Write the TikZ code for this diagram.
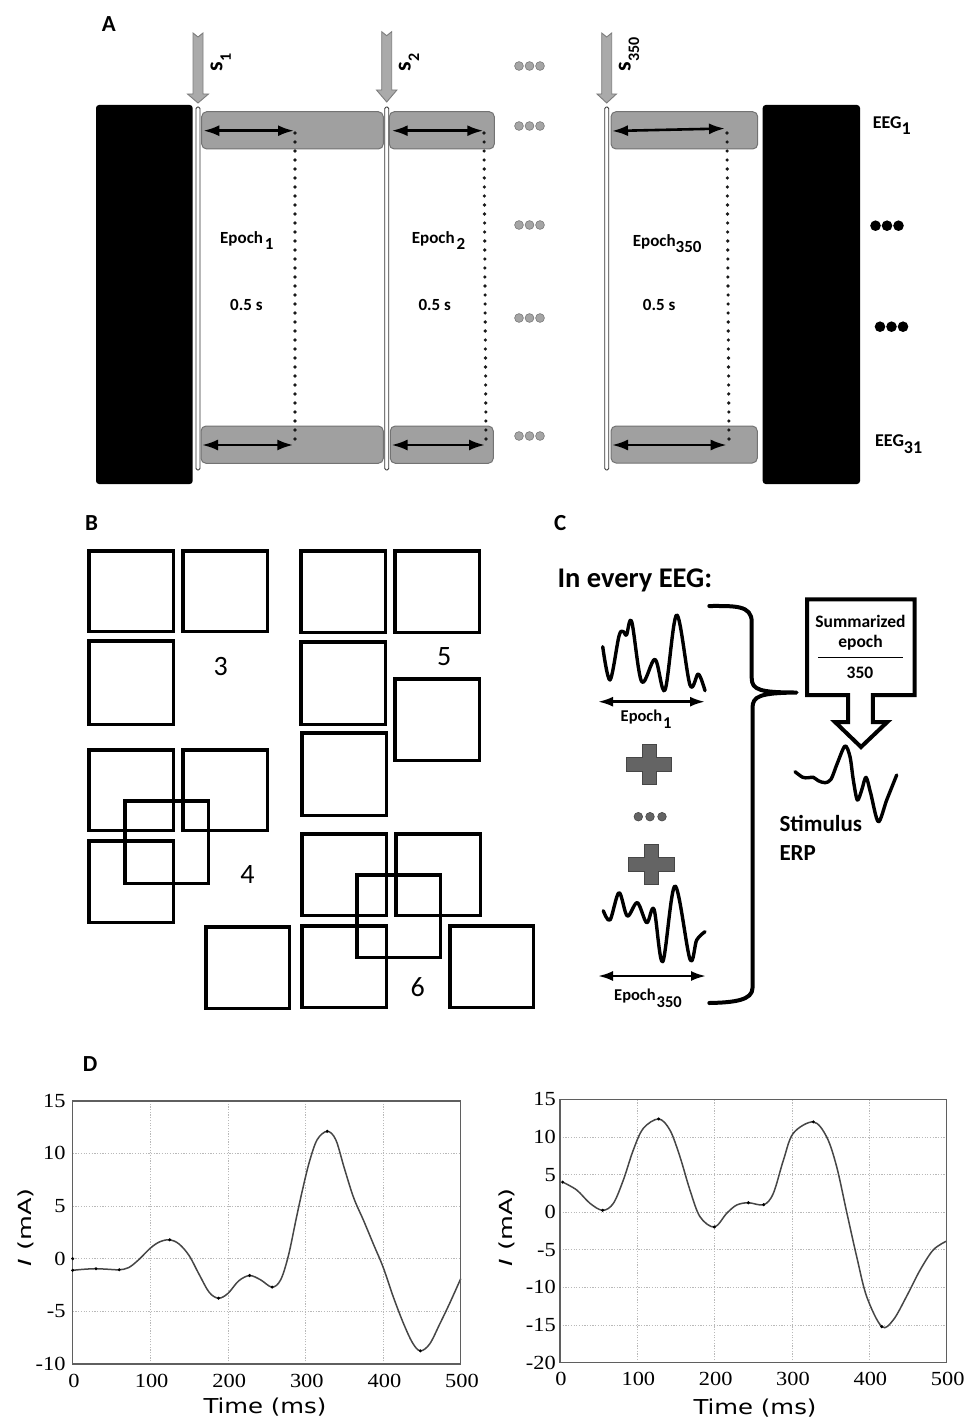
\documentclass[tikz,border=0pt]{standalone}
\usepackage{fontspec}
\setmainfont{Carlito}
\newfontfamily\tnrfont{Liberation Serif}
\newfontfamily\dvsfont{DejaVu Sans}
\usetikzlibrary{arrows.meta}
\newcommand\fsz[1]{\fontsize{#1}{#1}\selectfont}
\newcommand\lowsub[2]{\raisebox{-#1}{#2}}
\definecolor{boxgray}{RGB}{160,160,160}
\definecolor{boxedge}{RGB}{115,115,115}
\definecolor{arrgray}{RGB}{170,170,170}
\definecolor{arredge}{RGB}{125,125,125}
\definecolor{dotgray}{RGB}{165,165,165}
\definecolor{dotedge}{RGB}{120,120,120}
\definecolor{plusgray}{RGB}{100,100,100}
\definecolor{plusedge}{RGB}{70,70,70}
\definecolor{gridgray}{RGB}{185,185,185}
\definecolor{curvegray}{RGB}{70,70,70}
\definecolor{axisgray}{RGB}{95,95,95}
\definecolor{dotcol}{RGB}{25,25,25}
\begin{document}
\begin{tikzpicture}[x=1pt,y=-1pt,
  panlab/.style={inner sep=0pt, font=\fsz{23}\bfseries},
  lab/.style={inner sep=0pt, font=\fsz{17}\bfseries},
  eeglab/.style={inner sep=0pt, font=\fsz{18}\bfseries},
  slab/.style={inner sep=0pt, font=\fsz{24}\bfseries, rotate=90, anchor=base west},
  numlab/.style={inner sep=0pt, font=\fsz{28}, anchor=base},
  clab/.style={inner sep=0pt, font=\fsz{16.5}\bfseries, anchor=base west},
  sumlab/.style={inner sep=0pt, font=\fsz{17.5}\bfseries, anchor=base},
  erplab/.style={inner sep=0pt, font=\fsz{23}\bfseries, anchor=base west},
  gbox/.style={draw=boxedge, fill=boxgray, rounded corners=5pt, line width=1pt},
  darr/.style={{Latex[length=16pt,width=11pt]}-{Latex[length=16pt,width=11pt]}, line width=2.6pt},
  carr/.style={{Latex[length=15pt,width=10pt]}-{Latex[length=15pt,width=10pt]}, line width=2.5pt},
  dotl/.style={draw=dotcol, line width=3.6pt, line cap=round, dash pattern=on 0pt off 9pt},
  stimline/.style={draw=black!80, fill=white, line width=0.9pt, rounded corners=1.5pt},
  stimarrow/.style={fill=arrgray, draw=arredge, line width=0.9pt},
  gdot/.style={fill=dotgray, draw=dotedge, line width=0.6pt},
  sq/.style={draw=black, line width=3.6pt},
  wave/.style={draw=black, line width=3.4pt, line cap=round, line join=round},
  plusshape/.style={fill=plusgray, draw=plusedge, line width=0.8pt},
  gridl/.style={draw=gridgray, line width=0.7pt, dash pattern=on 1.2pt off 1.5pt},
  axisl/.style={draw=axisgray, line width=1.5pt},
  curvel/.style={draw=curvegray, line width=1.5pt},
  tick/.style={inner sep=0pt, font=\tnrfont\fsz{20}, xscale=1.12},
  axlab/.style={inner sep=0pt, font=\dvsfont\fsz{20.5}, xscale=1.19, anchor=base},
  ylab/.style={inner sep=0pt, font=\dvsfont\fsz{18}, rotate=90, xscale=1.42, anchor=base west}
]
\useasboundingbox (0,0) rectangle (966,1423);
\fill[white] (0,0) rectangle (966,1423);

%%%%%%%%%%%%%%%% Panel A
\node[panlab, anchor=base west] (labA) at (101.7,31.7) {A};
\fill[rounded corners=3pt] (96,105) rectangle (192.7,484);
\fill[rounded corners=3pt] (762.7,105) rectangle (860,484);
% stimulus arrows
\foreach \c/\t/\h/\tip/\hw in {198/33/94/103/10.5, 386.7/31.7/90/102/10.2, 606.7/33/94/103/9.7}
  \filldraw[stimarrow] (\c-5,\t) -- (\c,\t+4) -- (\c+5,\t) -- (\c+5,\h) -- (\c+\hw,\h) -- (\c,\tip) -- (\c-\hw,\h) -- (\c-5,\h) -- cycle;
\node[slab] (s1) at (222.3,71.7) {s\lowsub{8.5pt}{\fsz{16}1}};
\node[slab] (s2) at (410.7,71.7) {s\lowsub{8.5pt}{\fsz{16}2}};
\node[slab] (s350) at (630.7,71.7) {s\lowsub{8.5pt}{\fsz{16}350}};
% stimulus lines
\draw[stimline] (196,107) rectangle (200,470);
\draw[stimline] (384.7,107) rectangle (388.7,470);
\draw[stimline] (604.7,107) rectangle (608.7,470);
% gray boxes
\draw[gbox] (201.7,111.7) rectangle (383.3,149);
\draw[gbox] (389.3,111.7) rectangle (494.3,149);
\draw[gbox] (611,111.7) rectangle (757.7,149);
\draw[gbox] (201,426) rectangle (383.3,463.3);
\draw[gbox] (390.3,426) rectangle (493.3,463.3);
\draw[gbox] (611,426) rectangle (757.3,463);
% dotted lines
\draw[dotl] (295,133) -- (295,442);
\draw[dotl] (484,133) -- (486,442);
\draw[dotl] (727,133) -- (729,442);
% double arrows
\draw[darr] (203.3,130.7) -- (294,130.7);
\draw[darr] (391.7,130.7) -- (483.3,130.7);
\draw[darr] (612,131) -- (725,128.5);
\draw[darr] (202,445) -- (293.3,445);
\draw[darr] (391.5,445) -- (485,445);
\draw[darr] (612,445) -- (726.7,445);
% gray dots
\foreach \y in {66,126,225,318,436}
  \foreach \x in {519,529.5,540}
    \filldraw[gdot] (\x,\y) circle[radius=4.4pt];
% labels
\node[lab, anchor=base west] (ep1) at (220,243.3) {Epoch\hspace{2pt}\lowsub{6pt}{1}};
\node[lab, anchor=base west] (ep2) at (411.7,243.3) {Epoch\hspace{2pt}\lowsub{6pt}{2}};
\node[lab, anchor=base west] (ep350) at (632.7,246.7) {Epoch\lowsub{6pt}{350}};
\node[lab, anchor=base west] (t1) at (230,310) {0.5 s};
\node[lab, anchor=base west] (t2) at (418.3,310) {0.5 s};
\node[lab, anchor=base west] (t350) at (642.7,310) {0.5 s};
\node[eeglab, anchor=base west] (eeg1) at (872.7,128.3) {EEG\lowsub{6.5pt}{1}};
\node[eeglab, anchor=base west] (eeg31) at (875,446.7) {EEG\lowsub{7pt}{31}};
\foreach \x in {875.5,887,898.5} \fill (\x,225.7) circle[radius=5.3pt];
\foreach \x in {880,891.5,903} \fill (\x,326.7) circle[radius=5.3pt];

%%%%%%%%%%%%%%%% Panel B
\node[panlab, anchor=base west] (labB) at (85,530) {B};
\foreach \a/\b/\c/\d in {
  87/549/175/633, 181/549/269/633, 87/639/175/726,
  87/748/175/832, 181/748/269/832, 123/799/210/885, 87/839/175/924,
  204/925/291/1010,
  299/549/387/634, 393/549/481/634, 299/640/387/726, 393/677/481/762, 300/731/388/817,
  300/832/388/917, 394/832/482/917, 355/873/442/959, 300/924/388/1009, 448/924/535/1009}
  \draw[sq] (\a+1.7,\b+1.7) rectangle (\c-1.7,\d-1.7);
\node[numlab] (n3) at (220.8,675) {3};
\node[numlab] (n4) at (247.5,883.3) {4};
\node[numlab] (n5) at (444.2,665.7) {5};
\node[numlab] (n6) at (417.7,996.7) {6};

%%%%%%%%%%%%%%%% Panel C
\node[panlab, anchor=base west] (labC) at (554,530) {C};
\node[inner sep=0pt, font=\fsz{28.5}\bfseries, anchor=base west] (every) at (557.3,587.3) {In every EEG:};
\draw[wave] plot[smooth, tension=0.55] coordinates {(602.7,646.7) (610,680) (619,636) (623.3,631.7) (626.5,635) (631.7,621.7) (641.7,681.7) (655,659.3) (665,690) (676.7,615) (690,685) (698.3,674) (705,690.7)};
\draw[carr] (598,701.7) -- (705,701.7);
\node[clab] (cep1) at (620.5,721.7) {Epoch\hspace{1pt}\lowsub{6.5pt}{1}};
\filldraw[plusshape] (642,744) -- (656,744) -- (656,757.3) -- (671.7,757.3) -- (671.7,771.7) -- (656,771.7) -- (656,784) -- (642,784) -- (642,771.7) -- (626,771.7) -- (626,757.3) -- (642,757.3) -- cycle;
\foreach \x in {638.3,650,662} \filldraw[fill=plusgray, draw=plusedge, line width=0.6pt] (\x,816.7) circle[radius=4.3pt];
\filldraw[plusshape] (644.5,844) -- (658.5,844) -- (658.5,857.3) -- (674.7,857.3) -- (674.7,871.7) -- (658.5,871.7) -- (658.5,884) -- (644.5,884) -- (644.5,871.7) -- (628.3,871.7) -- (628.3,857.3) -- (644.5,857.3) -- cycle;
\draw[wave] plot[smooth, tension=0.55] coordinates {(603.3,910.7) (610,920) (619,892.7) (627.3,916) (637.3,902.7) (646.7,922.7) (654,909.3) (662.7,961.7) (675,886) (690,959.3) (696.7,940) (705,931.7)};
\draw[carr] (598,976) -- (706,976);
\node[clab] (cep350) at (614,1000) {Epoch\hspace{1pt}\lowsub{7pt}{350}};
% brace
\draw[line width=4pt, line cap=round, line join=round] (709.3,606) .. controls (735,606) and (751.7,605) .. (751.7,622) -- (751.7,678) .. controls (751.7,690) and (760,692.5) .. (796.7,692.5) .. controls (760,693) and (752.5,696) .. (752.5,708) -- (752.5,988) .. controls (752.5,1000) and (735,1002.5) .. (709.3,1003);
% summarized box
\draw[line width=4pt, line join=miter] (807,599.3) -- (914.7,599.3) -- (914.7,695) -- (872.8,695) -- (872.8,722) -- (887.3,722) -- (861,747) -- (835,722) -- (848,722) -- (848,695) -- (807,695) -- cycle;
\node[sumlab] (summ) at (860.5,627.3) {Summarized};
\node[sumlab] (epo) at (860.5,647.3) {epoch};
\draw[line width=1pt] (818.3,657.7) -- (903.3,657.7);
\node[sumlab] (n350) at (860,678.3) {350};
% ERP wave
\draw[wave] plot[smooth, tension=0.5] coordinates {(795,771.7) (802.7,777.3) (808.3,777.7) (813.3,777.3) (818.3,780.7) (825,782.7) (831,779.3) (837.3,763.3) (845,746) (850,756.7) (853.3,780) (857.3,800) (861.7,790) (866,777.3) (870.7,793.3) (878.3,821.7) (886.7,800) (896.7,775)};
\node[erplab] (stim) at (779.3,831.7) {Stimulus};
\node[erplab] (erp) at (779.3,860.7) {ERP};

%%%%%%%%%%%%%%%% Panel D
\node[panlab, anchor=base west] (labD) at (82.7,1071.7) {D};
% left plot
\begin{scope}[shift={(72.7pt,-1258.7pt)}, x=0.776pt, y=10.53pt]
  \foreach \gx in {100,200,300,400} \draw[gridl] (\gx,-10) -- (\gx,15);
  \foreach \gy in {-5,0,5,10} \draw[gridl] (0,\gy) -- (500,\gy);
  \draw[curvel] plot[smooth, tension=0.55] coordinates {(0,-1.1) (15,-1.0) (30,-0.95) (45,-1.0) (60,-1.05) (72,-0.85) (85,-0.1) (100,1.0) (112,1.6) (125,1.8) (137,1.4) (150,0.3) (163,-1.5) (176,-3.2) (188,-3.75) (200,-3.3) (214,-2.1) (228,-1.6) (242,-2.0) (257,-2.7) (268,-2.0) (278,0.3) (288,3.8) (296,6.5) (305,9.2) (315,11.3) (328,12.1) (339,11.3) (350,8.6) (362,5.8) (375,3.6) (388,1.3) (400,-0.8) (413,-3.6) (426,-6.1) (438,-8.0) (448,-8.75) (460,-8.1) (473,-6.2) (486,-4.2) (500,-1.9)};
  \draw[axisl] (0,-10) rectangle (500,15);
  \foreach \px/\py in {0/0, 0/-1.1, 30/-0.95, 60/-1.05, 125/1.8, 188/-3.75, 228/-1.6, 257/-2.7, 328/12.1, 448/-8.75}
    \fill (\px,\py) circle[radius=1.7pt];
\end{scope}
\foreach \v in {15,10,5,0,-5,-10}
  \node[tick, anchor=base east] (ly\v) at (65.7,{1258.7-10.53*(\v)+6.3}) {\v};
\foreach \d in {0,100,...,500}
  \node[tick, anchor=base] (lx\d) at ({74+0.776*\d},1387.3) {\d};
\node[axlab] (ltime) at (265,1413.3) {Time (ms)};
\node[ylab] (lI) at (31.5,1266.7) {{\itshape I} (mA)};
% right plot
\begin{scope}[shift={(560pt,-1212.2pt)}, x=0.7734pt, y=7.526pt]
  \foreach \gx in {100,200,300,400} \draw[gridl] (\gx,-20) -- (\gx,15);
  \foreach \gy in {-15,-10,-5,0,5,10} \draw[gridl] (0,\gy) -- (500,\gy);
  \draw[curvel] plot[smooth, tension=0.55] coordinates {(3.4,4.0) (21.6,2.95) (38.8,1.18) (55.2,0.25) (69,1.18) (81.9,4.28) (94.8,8.27) (107.8,11.15) (127.6,12.39) (142.2,10.9) (155,7.4) (168,2.95) (181,-0.6) (199.6,-1.97) (215.5,-0.15) (228.4,0.95) (243.5,1.26) (263.4,1.0) (275.8,2.5) (288.8,6.9) (301.7,10.5) (327.6,12.0) (344.8,10.0) (357.7,6.05) (370.7,0) (383.6,-5.9) (396.5,-11.2) (416,-15.2) (431,-14.3) (448,-11.2) (465.5,-7.7) (482.7,-5.0) (500,-3.83)};
  \draw[axisl] (0,-20) rectangle (500,15);
  \foreach \px/\py in {3.4/4.0, 55.2/0.25, 127.6/12.39, 199.6/-1.97, 243.5/1.26, 263.4/1.0, 327.6/12.0, 416/-15.2}
    \fill (\px,\py) circle[radius=1.7pt];
\end{scope}
\foreach \v in {15,10,5,0,-5,-10,-15,-20}
  \node[tick, anchor=base east] (ry\v) at (556,{1212.2-7.526*(\v)+6.5}) {\v};
\foreach \d in {0,100,...,500}
  \node[tick, anchor=base] (rx\d) at ({561+0.7734*\d},1385) {\d};
\node[axlab] (rtime) at (755,1414) {Time (ms)};
\node[ylab] (rI) at (512.5,1266.7) {{\itshape I} (mA)};
\end{tikzpicture}
\end{document}
